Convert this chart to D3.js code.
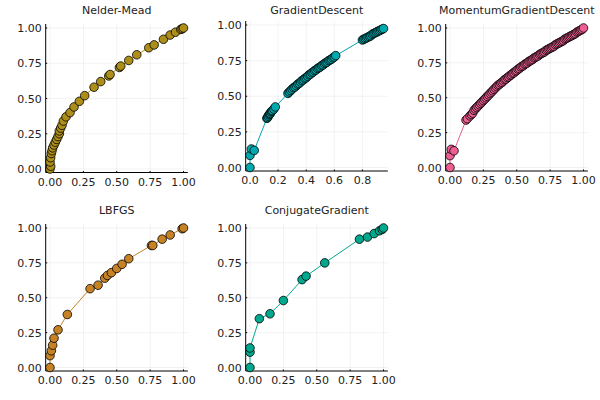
<!DOCTYPE html>
<html><head><meta charset="utf-8">
<script src="https://cdn.jsdelivr.net/npm/d3@7"></script>
<style>body{margin:0;background:#fff}svg{font-family:"DejaVu Sans",sans-serif}</style>
</head><body><svg id="c" width="600" height="400"></svg>
<script>
const titles = ["Nelder-Mead","GradientDescent","MomentumGradientDescent","LBFGS","ConjugateGradient"];
const colors = ["#AC8E18","#00A9AD","#ED5E93","#C68225","#00A98D"];
const nmX = [0,0.005,0,0.005,0.01,0.015,0.02,0.03,0.04,0.05,0.06,0.07,0.07,0.08,0.09,0.1,0.12,0.15,0.18,0.22,0.26,0.33,0.38,0.44,0.45,0.52,0.53,0.59,0.65,0.74,0.78,0.85,0.9,0.94,0.98,0.99,1];
const nmY = [0,0.02,0.05,0.08,0.11,0.13,0.15,0.17,0.19,0.21,0.23,0.25,0.27,0.29,0.31,0.34,0.37,0.4,0.44,0.48,0.52,0.58,0.62,0.66,0.67,0.72,0.73,0.77,0.81,0.86,0.88,0.92,0.95,0.97,0.99,0.995,1];
const gdX = [0,0,0.01,0.03,0.12,0.125,0.13,0.135,0.14,0.145,0.15,0.155,0.16,0.17,0.18,
  0.27,0.28,0.29,0.30,0.31,0.32,0.33,0.34,0.35,0.36,0.37,0.38,0.39,0.40,0.41,0.42,0.43,0.44,0.45,0.46,0.47,0.48,0.49,0.50,0.51,0.52,0.53,0.54,0.55,0.56,0.57,0.58,0.59,0.60,0.61,
  0.80,0.81,0.82,0.83,0.84,0.85,0.86,0.87,0.88,0.89,0.90,0.91,0.92,0.93,0.94,0.95];
const gdY = [0,0.085,0.13,0.12,0.345,0.35,0.36,0.37,0.375,0.38,0.39,0.395,0.40,0.41,0.425,
  0.52,0.53,0.54,0.55,0.56,0.565,0.575,0.585,0.59,0.60,0.61,0.615,0.625,0.63,0.64,0.65,0.655,0.665,0.67,0.68,0.685,0.695,0.70,0.705,0.715,0.72,0.73,0.735,0.74,0.75,0.755,0.76,0.77,0.775,0.785,
  0.895,0.90,0.905,0.91,0.915,0.92,0.925,0.935,0.94,0.945,0.95,0.955,0.96,0.965,0.97,0.975];
const mgX = [0,0,0.01,0.03,0.12,0.13,
  0.15,0.16,0.17,0.18,0.19,0.20,0.21,0.22,0.23,0.24,0.25,0.26,0.27,0.28,0.29,0.30,0.31,0.32,0.33,0.34,0.35,0.36,0.37,0.38,0.39,0.40,0.41,0.42,0.43,0.44,0.45,0.46,0.47,0.48,0.49,0.50,
  0.51,0.52,0.53,0.54,0.55,0.56,0.57,0.58,0.59,0.60,0.61,0.62,0.63,0.64,0.65,0.66,0.67,0.68,0.69,0.70,0.71,0.72,0.73,0.74,0.75,0.76,0.77,0.78,0.79,0.80,
  0.81,0.82,0.83,0.84,0.85,0.86,0.87,0.88,0.89,0.90,0.91,0.92,0.93,0.94,0.95,0.96,0.97,0.98,0.99,1];
const mgY = [0,0.085,0.13,0.12,0.34,0.35,
  0.37,0.38,0.39,0.41,0.42,0.43,0.44,0.45,0.46,0.47,0.48,0.49,0.50,0.51,0.52,0.53,0.54,0.55,0.56,0.57,0.58,0.59,0.595,0.605,0.61,0.62,0.63,0.635,0.645,0.65,0.66,0.665,0.675,0.68,0.69,0.695,
  0.705,0.71,0.72,0.725,0.73,0.74,0.745,0.75,0.76,0.765,0.77,0.775,0.785,0.79,0.795,0.80,0.81,0.815,0.82,0.825,0.83,0.84,0.845,0.85,0.855,0.86,0.865,0.87,0.88,0.885,
  0.89,0.895,0.90,0.905,0.91,0.92,0.925,0.93,0.935,0.94,0.945,0.95,0.955,0.96,0.97,0.975,0.98,0.985,0.99,1];
const lbX = [0,0,0.01,0.02,0.03,0.06,0.13,0.3,0.36,0.41,0.43,0.46,0.5,0.54,0.59,0.76,0.77,0.84,0.9,0.99,1];
const lbY = [0,0.085,0.12,0.16,0.21,0.27,0.38,0.565,0.59,0.64,0.66,0.68,0.71,0.74,0.78,0.875,0.875,0.92,0.95,0.995,1];
const cgX = [0,0,0,0.07,0.15,0.25,0.39,0.42,0.56,0.82,0.88,0.93,0.97,0.99,1];
const cgY = [0,0.11,0.14,0.35,0.385,0.48,0.63,0.655,0.75,0.92,0.935,0.96,0.98,0.99,1];
const xsList = [nmX,gdX,mgX,lbX,cgX];
const ysList = [nmY,gdY,mgY,lbY,cgY];
const xMax = [1,0.95,1,1,1];
const xTicks = [[0,0.25,0.5,0.75,1],[0,0.2,0.4,0.6,0.8],[0,0.25,0.5,0.75,1],[0,0.25,0.5,0.75,1],[0,0.25,0.5,0.75,1]];
const yTicks = [0,0.25,0.5,0.75,1];

const svg = d3.select("#c");
const panels = [[50,28,169],[250,25,167.5],[450,28,167.5],[50,228,367.5],[250,228,367.5]];
panels.forEach(([x0,yTop,yBot],i)=>{
  const w = 133.5;
  const x = d3.scaleLinear().domain([0,xMax[i]]).range([x0,x0+w]);
  const y = d3.scaleLinear().domain([0,1]).range([yBot,yTop]);
  const L = x0-4.3, R = x0+w+4.3, T = yTop-4, B = yBot+3.5;
  const g = svg.append("g");
  g.append("text").attr("x",(L+R)/2).attr("y",(i<3?14:214)).attr("text-anchor","middle").attr("font-size",11).attr("fill","#222").text(titles[i]);
  xTicks[i].forEach(t=>g.append("line").attr("x1",x(t)).attr("x2",x(t)).attr("y1",T).attr("y2",B).attr("stroke","#000").attr("stroke-opacity",0.1).attr("stroke-width",0.5));
  yTicks.forEach(t=>g.append("line").attr("x1",L).attr("x2",R).attr("y1",y(t)).attr("y2",y(t)).attr("stroke","#000").attr("stroke-opacity",0.1).attr("stroke-width",0.5));
  g.append("line").attr("x1",L).attr("x2",R).attr("y1",B).attr("y2",B).attr("stroke","#000");
  g.append("line").attr("x1",L).attr("x2",L).attr("y1",T).attr("y2",B).attr("stroke","#000");
  xTicks[i].forEach(t=>{
    g.append("line").attr("x1",x(t)).attr("x2",x(t)).attr("y1",B).attr("y2",B-1.5).attr("stroke","#000");
    g.append("text").attr("x",x(t)).attr("y",B+13).attr("text-anchor","middle").attr("font-size",11).attr("fill","#222").text(xMax[i]<1?d3.format(".1f")(t):d3.format(".2f")(t));
  });
  yTicks.forEach(t=>{
    g.append("line").attr("x1",L).attr("x2",L+1.5).attr("y1",y(t)).attr("y2",y(t)).attr("stroke","#000");
    g.append("text").attr("x",L-4).attr("y",y(t)+4).attr("text-anchor","end").attr("font-size",11).attr("fill","#222").text(d3.format(".2f")(t));
  });
  const pts = xsList[i].map((v,k)=>[v,ysList[i][k]]);
  g.append("path").attr("d",d3.line().x(d=>x(d[0])).y(d=>y(d[1]))(pts)).attr("fill","none").attr("stroke",colors[i]).attr("stroke-width",1);
  g.selectAll("circle").data(pts).join("circle").attr("cx",d=>x(d[0])).attr("cy",d=>y(d[1])).attr("r",4.3)
    .attr("fill",colors[i]).attr("stroke","#000").attr("stroke-width",0.8);
});
</script></body></html>
